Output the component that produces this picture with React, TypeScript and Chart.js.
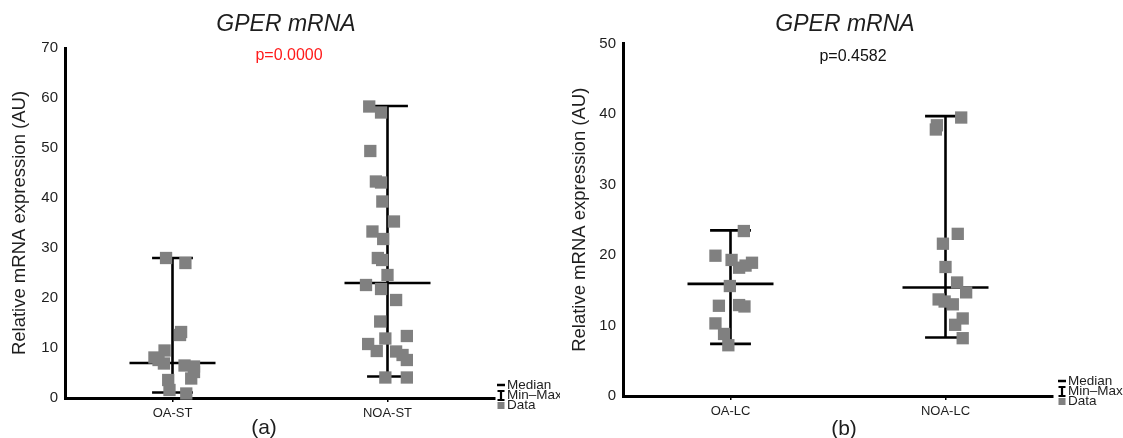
import React, { useEffect, useRef } from "react";
import { Chart, registerables } from "chart.js";

Chart.register(...registerables);

// ---------- shared text ----------
const chartTitle = "GPER mRNA";
const yAxisTitle = "Relative mRNA expression (AU)";
const legendLabels = ["Median", "Min–Max", "Data"];

// ---------- panel (a) ----------
const categoriesA = ["OA-ST", "NOA-ST"];
const pValueA = "p=0.0000";
const yMaxA = 70;
const oaStValues = [28.0, 27.0, 13.2, 12.6, 9.5, 8.1, 7.6, 6.9, 6.5, 6.3, 5.2, 3.9, 3.6, 1.6, 0.9];
const oaStPos = [0.97, 1.06, 1.04, 1.035, 0.963, 0.916, 0.935, 0.96, 1.056, 1.1, 1.1, 1.087, 0.98, 0.986, 1.064];
const noaStValues = [58.3, 57.1, 49.4, 43.3, 43.1, 39.3, 35.3, 33.3, 31.8, 28.0, 27.6, 24.6, 22.6, 21.8, 19.6, 15.3, 12.4, 11.9, 10.8, 9.4, 9.3, 8.6, 7.6, 4.1, 4.1];
const noaStPos = [1.915, 1.97, 1.92, 1.946, 1.97, 1.976, 2.03, 1.93, 1.98, 1.955, 1.975, 2.0, 1.9, 1.97, 2.04, 1.966, 2.09, 1.99, 1.91, 1.95, 2.04, 2.07, 2.09, 1.99, 2.09];
const mediansA = [7.0, 23.0];
const minsA = [1.1, 4.3];
const maxsA = [28.0, 58.4];

// ---------- panel (b) ----------
const categoriesB = ["OA-LC", "NOA-LC"];
const pValueB = "p=0.4582";
const yMaxB = 50;
const oaLcValues = [23.4, 19.9, 19.3, 18.2, 18.5, 18.9, 15.6, 12.8, 12.9, 12.7, 10.3, 8.8, 7.2];
const oaLcPos = [1.062, 0.93, 1.005, 1.04, 1.07, 1.1, 0.997, 0.946, 1.04, 1.065, 0.93, 0.97, 0.99];
const noaLcValues = [39.5, 38.4, 37.8, 23.0, 21.6, 18.3, 16.1, 14.7, 13.7, 13.4, 13.0, 11.0, 10.1, 8.2];
const noaLcPos = [2.073, 1.96, 1.955, 2.057, 1.988, 2.0, 2.054, 2.096, 1.968, 1.996, 2.034, 2.08, 2.045, 2.08];
const mediansB = [15.9, 15.4];
const minsB = [7.4, 8.3];
const maxsB = [23.5, 39.7];

const FONT = "'Liberation Sans', Arial, sans-serif";
const TEXT = "#1e1e1e";
const POINT = "#808080";

const annotatePlugin = {
  id: "annotate",
  afterDraw(chart: any, _args: any, o: any) {
    const ctx = chart.ctx as CanvasRenderingContext2D;
    ctx.save();
    ctx.textAlign = "center";
    ctx.textBaseline = "middle";
    ctx.fillStyle = TEXT;
    ctx.font = `italic 23px ${FONT}`;
    ctx.fillText(chartTitle, o.titleX, o.titleY);
    ctx.font = `16px ${FONT}`;
    ctx.fillStyle = o.pColor;
    ctx.fillText(o.pText, o.pX, o.pY);
    ctx.fillStyle = TEXT;
    ctx.font = `21px ${FONT}`;
    ctx.fillText(o.letter, o.letterX, o.letterY);

    // legend
    const lx = o.legendX;
    const ly = o.legendY;
    ctx.strokeStyle = "#000";
    ctx.lineWidth = 2.5;
    ctx.beginPath();
    ctx.moveTo(lx - 4, ly);
    ctx.lineTo(lx + 4, ly);
    ctx.stroke();
    const iy = ly + 10.5;
    ctx.lineWidth = 2.2;
    ctx.beginPath();
    ctx.moveTo(lx, iy - 4.5);
    ctx.lineTo(lx, iy + 4.5);
    ctx.moveTo(lx - 3.5, iy - 4.5);
    ctx.lineTo(lx + 3.5, iy - 4.5);
    ctx.moveTo(lx - 3.5, iy + 4.5);
    ctx.lineTo(lx + 3.5, iy + 4.5);
    ctx.stroke();
    const dy = ly + 20.5;
    ctx.fillStyle = POINT;
    ctx.fillRect(lx - 3.5, dy - 3.5, 7, 7);
    ctx.fillStyle = TEXT;
    ctx.font = `13.5px ${FONT}`;
    ctx.textAlign = "left";
    ctx.fillText(legendLabels[0], lx + 6, ly);
    ctx.fillText(legendLabels[1], lx + 6, iy);
    ctx.fillText(legendLabels[2], lx + 6, dy);
    ctx.restore();
  },
};

function segment(x1: number, y1: number, x2: number, y2: number) {
  return {
    type: "line" as const,
    data: [
      { x: x1, y: y1 },
      { x: x2, y: y2 },
    ],
    showLine: true,
    borderColor: "#000",
    borderWidth: 2.6,
    pointRadius: 0,
    clip: false as const,
  };
}

function buildConfig(p: any) {
  const points: any[] = [];
  p.values.forEach((vals: number[], ci: number) => {
    vals.forEach((v, i) => points.push({ x: p.pos[ci][i], y: v }));
  });
  const lines: any[] = [];
  p.categories.forEach((_c: string, i: number) => {
    const c = i + 1;
    lines.push(segment(c - 0.2, p.medians[i], c + 0.2, p.medians[i]));
    lines.push(segment(c, p.mins[i], c, p.maxs[i]));
    lines.push(segment(c - 0.095, p.mins[i], c + 0.095, p.mins[i]));
    lines.push(segment(c - 0.095, p.maxs[i], c + 0.095, p.maxs[i]));
  });
  return {
    type: "scatter" as const,
    data: {
      datasets: [
        {
          data: points,
          pointStyle: "rect",
          pointRadius: 8.7,
          pointHoverRadius: 8.7,
          backgroundColor: POINT,
          borderWidth: 0,
          clip: false,
        },
        ...lines,
      ],
    },
    options: {
      responsive: false,
      animation: false,
      events: [],
      layout: { padding: { left: 0, right: p.padRight, top: p.padTop, bottom: 0 } },
      plugins: {
        legend: { display: false },
        tooltip: { enabled: false },
        annotate: p.annotate,
      },
      scales: {
        x: {
          type: "linear",
          min: 0.5,
          max: 2.5,
          afterBuildTicks: (s: any) => {
            s.ticks = p.categories.map((_c: string, i: number) => ({ value: i + 1 }));
          },
          afterFit: (s: any) => {
            s.height = p.xHeight;
          },
          ticks: {
            callback: (v: number) => p.categories[Math.round(v) - 1] ?? "",
            font: { size: 13, family: FONT },
            color: TEXT,
            padding: 4,
            maxRotation: 0,
            autoSkip: false,
          },
          grid: {
            display: true,
            drawOnChartArea: false,
            drawTicks: true,
            tickLength: 4,
            color: "#000",
            lineWidth: 1.5,
          },
          border: { display: true, color: "#000", width: 3 },
        },
        y: {
          type: "linear",
          min: 0,
          max: p.yMax,
          afterFit: (s: any) => {
            s.width = p.yWidth;
          },
          ticks: {
            stepSize: 10,
            font: { size: 15, family: FONT },
            color: TEXT,
            padding: 7,
          },
          grid: { display: false, drawTicks: false },
          border: { display: true, color: "#000", width: 3 },
          title: {
            display: true,
            text: yAxisTitle,
            font: { size: 18.5, family: FONT },
            color: TEXT,
            padding: { top: 9, bottom: 0 },
          },
        },
      },
    },
    plugins: [annotatePlugin],
  };
}

const panelA = {
  categories: categoriesA,
  values: [oaStValues, noaStValues],
  pos: [oaStPos, noaStPos],
  medians: mediansA,
  mins: minsA,
  maxs: maxsA,
  yMax: yMaxA,
  yWidth: 65,
  padRight: 65,
  padTop: 48,
  xHeight: 40,
  annotate: {
    titleX: 286,
    titleY: 25,
    pText: pValueA,
    pColor: "#ff1a1a",
    pX: 289,
    pY: 56,
    letter: "(a)",
    letterX: 264,
    letterY: 428,
    legendX: 501,
    legendY: 385,
  },
};

const panelB = {
  categories: categoriesB,
  values: [oaLcValues, noaLcValues],
  pos: [oaLcPos, noaLcPos],
  medians: mediansB,
  mins: minsB,
  maxs: maxsB,
  yMax: yMaxB,
  yWidth: 63,
  padRight: 70,
  padTop: 43.5,
  xHeight: 42,
  annotate: {
    titleX: 285,
    titleY: 25,
    pText: pValueB,
    pColor: "#111",
    pX: 293,
    pY: 57,
    letter: "(b)",
    letterX: 284,
    letterY: 429,
    legendX: 502,
    legendY: 381,
  },
};

function Panel({ spec, width }: { spec: any; width: number }) {
  const ref = useRef<HTMLCanvasElement | null>(null);
  useEffect(() => {
    if (!ref.current) return;
    const chart = new Chart(ref.current, buildConfig(spec) as any);
    return () => chart.destroy();
  }, []);
  return <canvas ref={ref} width={width} height={438} style={{ display: "block" }} />;
}

export default function App() {
  return (
    <div
      style={{
        position: "fixed",
        left: 0,
        top: 0,
        width: 1123,
        height: 438,
        display: "flex",
        background: "#fff",
      }}
    >
      <Panel spec={panelA} width={560} />
      <Panel spec={panelB} width={563} />
    </div>
  );
}
